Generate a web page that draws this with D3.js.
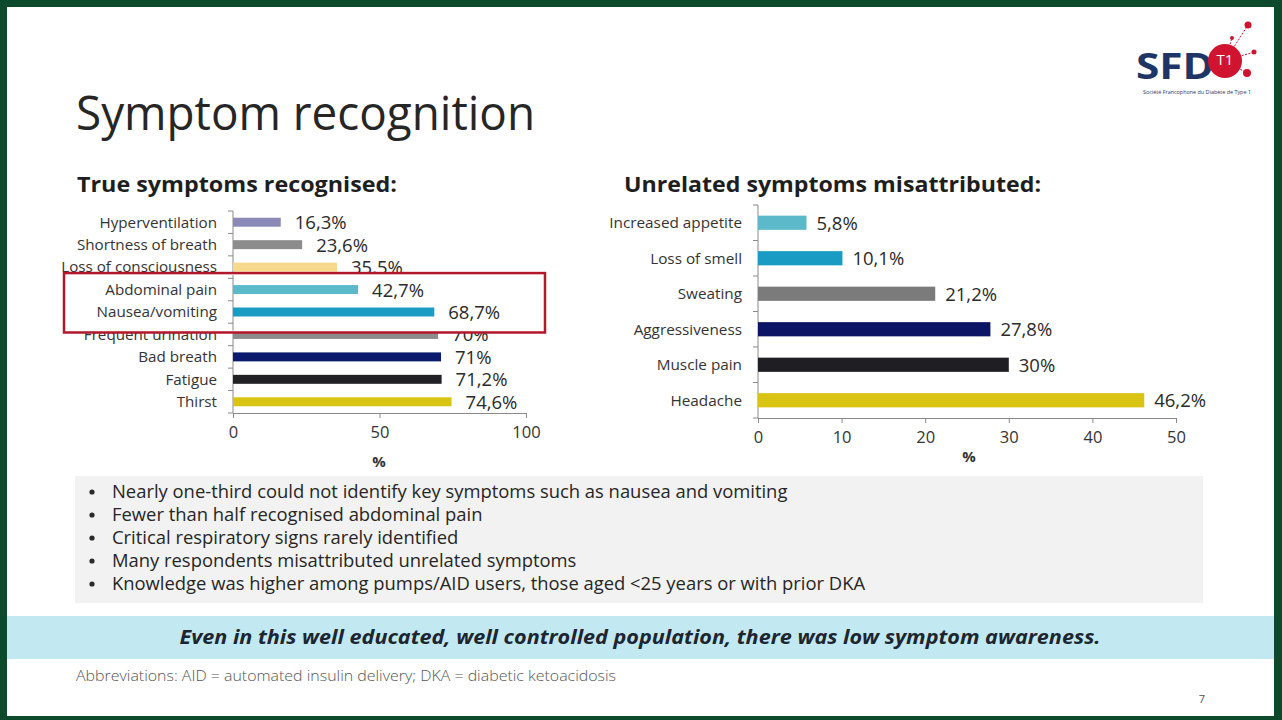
<!DOCTYPE html>
<html>
<head>
<meta charset="utf-8">
<script src="https://cdn.jsdelivr.net/npm/d3@7"></script>
<style>
  html, body { margin: 0; padding: 0; background: #0d4a2c; }
  svg { display: block; }
  text { font-family: "Open Sans", sans-serif; }
</style>
</head>
<body>
<svg id="slide" width="1282" height="720"></svg>
<script>
// true symptoms recognised (left chart)
let trueSymptoms = ["Hyperventilation", "Shortness of breath", "Loss of consciousness", "Abdominal pain",
    "Nausea/vomiting", "Frequent urination", "Bad breath", "Fatigue", "Thirst"];
let trueValues = [16.3, 23.6, 35.5, 42.7, 68.7, 70, 71, 71.2, 74.6];
let trueLabels = ["16,3%", "23,6%", "35,5%", "42,7%", "68,7%", "70%", "71%", "71,2%", "74,6%"];
let trueColors = ["#8b8ab6", "#8c8c8c", "#f6d98c", "#5cb9ca", "#1a9bc4", "#8c8c8c", "#0b1a6c", "#222226", "#dac413"];
let trueHighlight = ["Abdominal pain", "Nausea/vomiting"];
let trueTicks = [0, 50, 100];

// unrelated symptoms misattributed (right chart)
let falseSymptoms = ["Increased appetite", "Loss of smell", "Sweating", "Aggressiveness", "Muscle pain", "Headache"];
let falseValues = [5.8, 10.1, 21.2, 27.8, 30, 46.2];
let falseLabels = ["5,8%", "10,1%", "21,2%", "27,8%", "30%", "46,2%"];
let falseColors = ["#5cb9ca", "#1a9bc4", "#7b7b7b", "#0c1466", "#1f1f23", "#dac413"];
let falseTicks = [0, 10, 20, 30, 40, 50];

let bullets = [
    "Nearly one-third could not identify key symptoms such as nausea and vomiting",
    "Fewer than half recognised abdominal pain",
    "Critical respiratory signs rarely identified",
    "Many respondents misattributed unrelated symptoms",
    "Knowledge was higher among pumps/AID users, those aged <25 years or with prior DKA"
];

let svg = d3.select("#slide");

// slide background inside the green frame
svg.append("rect").attr("x", 7).attr("y", 7).attr("width", 1267).attr("height", 709).attr("fill", "#ffffff");

svg.append("text").attr("x", 76).attr("y", 130)
    .attr("font-size", 47).attr("fill", "#262626")
    .attr("textLength", 459).attr("lengthAdjust", "spacingAndGlyphs")
    .text("Symptom recognition");

svg.append("text").attr("x", 77).attr("y", 192)
    .attr("font-size", 22).attr("font-weight", 700).attr("fill", "#1e1e1e")
    .attr("textLength", 320).attr("lengthAdjust", "spacingAndGlyphs")
    .text("True symptoms recognised:");

svg.append("text").attr("x", 624).attr("y", 192)
    .attr("font-size", 22).attr("font-weight", 700).attr("fill", "#1e1e1e")
    .attr("textLength", 417).attr("lengthAdjust", "spacingAndGlyphs")
    .text("Unrelated symptoms misattributed:");

function drawRows(g, rows, x, y, opts) {
    let row = g.selectAll("g.row").data(rows).enter().append("g").attr("class", "row");
    row.append("text")
        .attr("x", x(0) - 16)
        .attr("y", d => y(d.name) + y.bandwidth() / 2)
        .attr("dy", "0.35em")
        .attr("text-anchor", "end")
        .attr("font-size", opts.catSize)
        .attr("fill", "#333")
        .text(d => d.name);
    row.append("rect")
        .attr("x", x(0))
        .attr("y", d => y(d.name))
        .attr("width", d => x(d.value) - x(0))
        .attr("height", y.bandwidth())
        .attr("fill", d => d.color);
    row.append("text")
        .attr("x", d => x(d.value) + opts.gap)
        .attr("y", d => y(d.name) + y.bandwidth() / 2)
        .attr("dy", "0.38em")
        .attr("font-size", opts.valSize)
        .attr("fill", "#2a2a2a")
        .text(d => d.label);
}

function drawChart(cfg) {
    let g = svg.append("g");
    let x = d3.scaleLinear().domain(cfg.domain).range(cfg.xRange);
    let y = d3.scaleBand().domain(cfg.names).range(cfg.yRange).paddingInner(cfg.pad).paddingOuter(cfg.pad / 2);
    let rows = cfg.names.map((n, i) => ({ name: n, value: cfg.values[i], label: cfg.labels[i], color: cfg.colors[i] }));

    // y axis line with ticks between categories
    let step = y.step();
    let edges = d3.range(cfg.names.length + 1).map(i => cfg.yRange[0] + i * step);
    g.append("line").attr("x1", x(0)).attr("x2", x(0)).attr("y1", cfg.yRange[0]).attr("y2", cfg.yRange[1])
        .attr("stroke", "#8a8a8a");
    g.selectAll("line.ytick").data(edges).enter().append("line").attr("class", "ytick")
        .attr("x1", x(0) - 5).attr("x2", x(0)).attr("y1", d => d).attr("y2", d => d)
        .attr("stroke", "#8a8a8a");

    let xAxis = g.append("g")
        .attr("transform", `translate(0,${cfg.yRange[1]})`)
        .call(d3.axisBottom(x).tickValues(cfg.ticks).tickSize(5).tickSizeOuter(0).tickPadding(8));
    xAxis.select(".domain").attr("stroke", "#8a8a8a");
    xAxis.selectAll(".tick line").attr("stroke", "#8a8a8a");
    xAxis.selectAll("text").attr("font-size", 16.5).attr("fill", "#333").attr("font-family", "Open Sans");

    g.append("text").attr("x", cfg.pctX).attr("y", cfg.pctY).attr("text-anchor", "middle")
        .attr("font-size", 15).attr("font-weight", 700).attr("fill", "#333").text("%");

    drawRows(g, rows, x, y, cfg);

    if (cfg.highlight) {
        let hRows = rows.filter(d => cfg.highlight.includes(d.name));
        let top = d3.min(hRows, d => y(d.name)) - 12;
        let bottom = d3.max(hRows, d => y(d.name) + y.bandwidth()) + 16;
        let hg = svg.append("g");
        hg.append("rect").attr("x", 64).attr("y", top).attr("width", 481).attr("height", bottom - top)
            .attr("fill", "#ffffff").attr("stroke", "#b3172b").attr("stroke-width", 2.5);
        hg.append("line").attr("x1", x(0)).attr("x2", x(0)).attr("y1", top + 2).attr("y2", bottom - 2)
            .attr("stroke", "#8a8a8a");
        hg.selectAll("line.ytick").data(edges.filter(e => e > top && e < bottom)).enter().append("line")
            .attr("x1", x(0) - 5).attr("x2", x(0)).attr("y1", d => d).attr("y2", d => d).attr("stroke", "#8a8a8a");
        drawRows(hg, hRows, x, y, cfg);
    }
}

drawChart({
    names: trueSymptoms, values: trueValues, labels: trueLabels, colors: trueColors,
    domain: [0, 100], ticks: trueTicks, xRange: [233, 526], yRange: [211, 413], pad: 0.6,
    catSize: 15.2, valSize: 18.5, gap: 14, pctX: 379, pctY: 467, highlight: trueHighlight
});

drawChart({
    names: falseSymptoms, values: falseValues, labels: falseLabels, colors: falseColors,
    domain: [0, 50], ticks: falseTicks, xRange: [758, 1176], yRange: [205, 418], pad: 0.6,
    catSize: 15.3, valSize: 18.5, gap: 10, pctX: 969, pctY: 462
});

// key findings box
svg.append("rect").attr("x", 75).attr("y", 476).attr("width", 1128).attr("height", 127).attr("fill", "#f1f2f1");
let bl = svg.append("g").selectAll("g").data(bullets).enter().append("g");
bl.append("circle").attr("cx", 92).attr("cy", (d, i) => 492 + i * 23).attr("r", 2.6).attr("fill", "#2a2a2a");
bl.append("text").attr("x", 112).attr("y", (d, i) => 492 + i * 23).attr("dy", "0.35em")
    .attr("font-size", 18.4).attr("fill", "#262626").text(d => d);

// conclusion banner
svg.append("rect").attr("x", 7).attr("y", 616).attr("width", 1267).attr("height", 43).attr("fill", "#c2e9f1");
svg.append("text").attr("x", 640).attr("y", 637).attr("dy", "0.35em").attr("text-anchor", "middle")
    .attr("font-family", "Roboto").attr("font-size", 20).attr("font-weight", 700).attr("font-style", "italic")
    .attr("fill", "#1c2530").attr("textLength", 921).attr("lengthAdjust", "spacingAndGlyphs")
    .text("Even in this well educated, well controlled population, there was low symptom awareness.");

svg.append("text").attr("x", 76).attr("y", 676).attr("dy", "0.35em")
    .attr("font-size", 14.5).attr("font-weight", 300).attr("fill", "#555")
    .attr("textLength", 540).attr("lengthAdjust", "spacingAndGlyphs")
    .text("Abbreviations: AID = automated insulin delivery; DKA = diabetic ketoacidosis");

svg.append("text").attr("x", 1202).attr("y", 699).attr("dy", "0.35em").attr("text-anchor", "middle")
    .attr("font-size", 11).attr("fill", "#555").text("7");

// SFDT1 logo (rough)
let logo = svg.append("g");
let spokes = [[1248, 25, 3.5], [1254, 52, 2.5], [1247, 73, 4], [1232, 38, 2]];
logo.selectAll("line").data(spokes).enter().append("line")
    .attr("x1", 1225).attr("y1", 61).attr("x2", d => d[0]).attr("y2", d => d[1])
    .attr("stroke", "#c8102e").attr("stroke-width", 1).attr("stroke-dasharray", "2,1.5");
logo.selectAll("circle.dot").data(spokes).enter().append("circle")
    .attr("cx", d => d[0]).attr("cy", d => d[1]).attr("r", d => d[2]).attr("fill", "#d0142f");
logo.append("text").attr("x", 1136).attr("y", 79).attr("font-family", "DejaVu Sans Condensed, sans-serif")
    .attr("font-size", 36).attr("font-weight", 700).attr("fill", "#1f3566")
    .attr("textLength", 78).attr("lengthAdjust", "spacingAndGlyphs").text("SFD");
logo.append("circle").attr("cx", 1225).attr("cy", 61).attr("r", 17).attr("fill", "#d0142f");
logo.append("text").attr("x", 1225).attr("y", 60).attr("dy", "0.35em").attr("text-anchor", "middle")
    .attr("font-family", "Liberation Serif").attr("font-size", 15).attr("fill", "#ffffff").text("T1");
logo.append("text").attr("x", 1143).attr("y", 94).attr("font-size", 4.5).attr("fill", "#1f3566")
    .attr("textLength", 108).attr("lengthAdjust", "spacingAndGlyphs")
    .text("Société Francophone du Diabète de Type 1");
</script>
</body>
</html>
